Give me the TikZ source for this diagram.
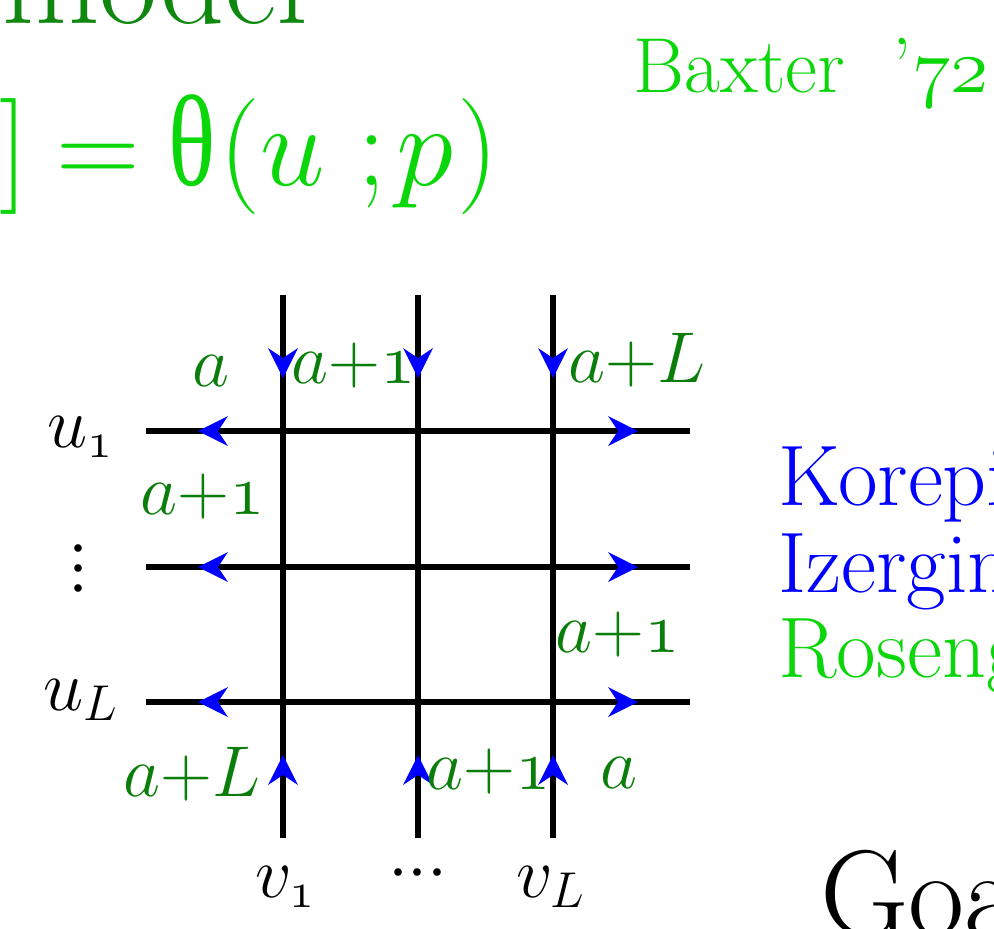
\RequirePackage{fix-cm}
\documentclass[tikz,border=0pt]{standalone}
\usepackage{graphicx}
\usepackage{fontspec}
\newfontfamily\thetafont{Liberation Serif}
\definecolor{dkgreen}{RGB}{10,125,10}
\definecolor{modelgreen}{RGB}{16,136,16}
\definecolor{brgreen}{RGB}{10,214,10}
\definecolor{arrblue}{RGB}{0,0,255}
\tikzset{
  gridline/.style={line width=2.75pt, black},
  lbl/.style={text=dkgreen, font=\fontsize{36}{43}\selectfont, inner sep=0pt, anchor=base},
  varlbl/.style={text=black, font=\fontsize{36}{43}\selectfont, inner sep=0pt, anchor=base},
  bigtxt/.style={inner sep=0pt, anchor=base west, font=\fontsize{43}{52}\selectfont},
  arrowhd/.pic={\fill[arrblue] (0,0) -- (-30,-15) -- (-20,0) -- (-30,15) -- cycle;}
}
\begin{document}
\begin{tikzpicture}[x=0.5pt,y=-0.5pt]
\useasboundingbox (0,0) rectangle (994,928);
\clip (0,0) rectangle (994,928);
% top texts
\node[inner sep=0pt, anchor=base west, text=modelgreen, font=\fontsize{63}{76}\selectfont] (model) at (2,23) {model};
\node[inner sep=0pt, anchor=base west, text=brgreen, font=\fontsize{58}{70}\selectfont] (eq) at (-1,185)
  {$]\kern-2pt\mathrel{=}\kern-2pt\mbox{\scalebox{0.85}[1.12]{\thetafont θ}}\kern2pt(u\;;\kern-4.5pt p\kern2pt)$};
\node[inner sep=0pt, anchor=base west, text=brgreen, font=\fontsize{39}{47}\selectfont] (baxter) at (633,92) {Baxter\hspace{24pt}’$\mathnormal{72}$};
% grid coordinates
\coordinate (v1t) at (283,295); \coordinate (v1b) at (283,838);
\coordinate (v2t) at (418,295); \coordinate (v2b) at (418,838);
\coordinate (v3t) at (553,295); \coordinate (v3b) at (553,838);
\coordinate (h1l) at (146,431); \coordinate (h1r) at (690,431);
\coordinate (h2l) at (146,567); \coordinate (h2r) at (690,567);
\coordinate (h3l) at (146,702); \coordinate (h3r) at (690,702);
\draw[gridline] (v1t) -- (v1b);
\draw[gridline] (v2t) -- (v2b);
\draw[gridline] (v3t) -- (v3b);
\draw[gridline] (h1l) -- (h1r);
\draw[gridline] (h2l) -- (h2r);
\draw[gridline] (h3l) -- (h3r);
% arrowheads
\pic[rotate=-90] at (283,378) {arrowhd};
\pic[rotate=-90] at (418,378) {arrowhd};
\pic[rotate=-90] at (553,378) {arrowhd};
\pic[rotate=90] at (283,755) {arrowhd};
\pic[rotate=90] at (418,755) {arrowhd};
\pic[rotate=90] at (553,755) {arrowhd};
\pic[rotate=180] at (198,431) {arrowhd};
\pic[rotate=180] at (198,567) {arrowhd};
\pic[rotate=180] at (198,702) {arrowhd};
\pic at (638,431) {arrowhd};
\pic at (638,567) {arrowhd};
\pic at (638,702) {arrowhd};
% green labels
\node[lbl] (l1) at (211,386) {$a$};
\node[lbl] (l2) at (354,383) {$a{+}\mathnormal{1}$};
\node[lbl] (l3) at (637,382) {$a{+}L$};
\node[lbl] (l4) at (203,514) {$a{+}\mathnormal{1}$};
\node[lbl] (l5) at (618,652) {$a{+}\mathnormal{1}$};
\node[lbl] (l6) at (192,796) {$a{+}L$};
\node[lbl] (l7) at (489,789) {$a{+}\mathnormal{1}$};
\node[lbl] (l8) at (619,788) {$a$};
% black labels
\node[varlbl] (u1) at (80,447) {$u_{\mathnormal{1}}$};
\node[varlbl, rotate=90] (vd) at (96,568) {${\cdotp}{\cdotp}{\cdotp}$};
\node[varlbl] (uL) at (81,710) {$u_L$};
\node[varlbl] (v1) at (285,897) {$v_{\mathnormal{1}}$};
\node[varlbl] (cd) at (418,890) {${\cdotp}{\cdotp}{\cdotp}$};
\node[varlbl] (vL) at (551,897) {$v_L$};
% right texts
\node[bigtxt, text=arrblue] (kor) at (778,505) {Korepi};
\node[bigtxt, text=arrblue] (ize) at (778,592) {Izergin};
\node[bigtxt, text=brgreen] (ros) at (778,677) {Roseng};
\node[inner sep=0pt, anchor=base west, font=\fontsize{61}{73}\selectfont] (goa) at (820,935) {Goa};
\end{tikzpicture}
\end{document}
